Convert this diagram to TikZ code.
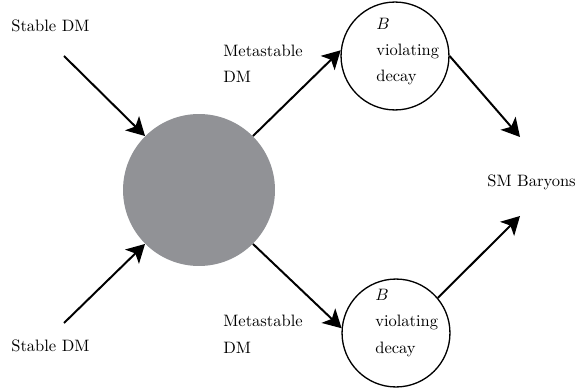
\documentclass[tikz,border=0pt]{standalone}
\usetikzlibrary{arrows.meta}
\definecolor{blobgray}{RGB}{145,146,150}
\begin{document}
\begin{tikzpicture}[x=0.606pt,y=-0.606pt,
   flow/.style={line width=1.2pt,-{Stealth[length=11pt,width=12pt,inset=2.8pt]}},
   decay/.style={circle,draw,line width=0.8pt,minimum size=65.4pt,inner sep=0pt},
   txt/.style={align=left,anchor=base west,inner sep=0pt,font=\fontsize{10}{15.8}\selectfont}]
\useasboundingbox (0,0) rectangle (579,391);
\node[circle,fill=blobgray,minimum size=92.1pt,inner sep=0pt] (blob) at (199,190) {};
\node[decay] (up) at (395,56) {};
\node[decay] (lo) at (396,333) {};
% base anchor sits on the last line
\node[txt] (upt) at (376,82) {$B$\\violating\\decay};
\node[txt] (lot) at (375,353) {$B$\\violating\\decay};
\node[txt] (s1) at (11,32) {Stable DM};
\node[txt] (s2) at (11,351) {Stable DM};
\node[txt] (m1) at (223,83) {Metastable\\DM};
\node[txt] (m2) at (223,353) {Metastable\\DM};
\node[txt] (sm) at (487,186) {SM Baryons};
\coordinate (s1out) at (64,56);
\coordinate (s2out) at (64,323);
\coordinate (smin1) at (520,137);
\coordinate (smin2) at (520,216);
 \draw[flow] (s1out) -- (blob.135);
 \draw[flow] (s2out) -- (blob.225);
 \draw[flow] (blob.45) -- (up.174);
 \draw[flow] (blob.-45) -- (lo.175);
 \draw[flow] (up.east) -- (smin1);
 \draw[flow] (lo.40) -- (smin2);
\end{tikzpicture}
\end{document}
